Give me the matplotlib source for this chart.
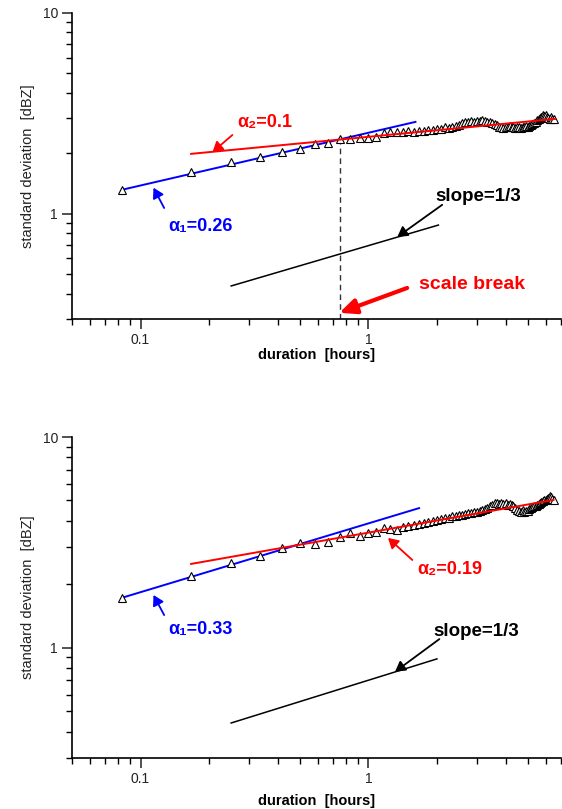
import numpy as np
import matplotlib
matplotlib.use('Agg')
from matplotlib import pyplot as plt
from matplotlib.ticker import FuncFormatter, NullFormatter, LogLocator

plt.rcParams['font.family'] = ['Liberation Sans', 'DejaVu Sans']

# durations: every 5 minutes, in hours
duration = np.arange(1, 79) / 12.0

# standard deviation [dBZ], upper panel
sd_top = [1.32, 1.62, 1.81, 1.92, 2.03, 2.11, 2.23, 2.25, 2.36, 2.36,
          2.38, 2.38, 2.40, 2.53, 2.55, 2.57, 2.56, 2.58, 2.57, 2.59,
          2.60, 2.62, 2.61, 2.64, 2.66, 2.70, 2.68, 2.72, 2.75, 2.78,
          2.82, 2.86, 2.88, 2.90, 2.88, 2.91, 2.89, 2.92, 2.90, 2.88,
          2.87, 2.85, 2.80, 2.76, 2.72, 2.70, 2.68, 2.72, 2.70, 2.74,
          2.71, 2.70, 2.68, 2.72, 2.70, 2.68, 2.72, 2.70, 2.74, 2.72,
          2.75, 2.78, 2.80, 2.84, 2.88, 2.92, 2.95, 3.00, 3.05, 3.10,
          3.08, 3.12, 3.05, 3.00, 2.96, 3.02, 2.98, 2.95]

# standard deviation [dBZ], lower panel
sd_bot = [1.73, 2.19, 2.53, 2.73, 2.98, 3.14, 3.11, 3.18, 3.36, 3.51,
          3.40, 3.51, 3.55, 3.70, 3.68, 3.62, 3.75, 3.78, 3.82, 3.85,
          3.90, 3.95, 4.00, 4.05, 4.08, 4.12, 4.15, 4.20, 4.22, 4.25,
          4.28, 4.30, 4.35, 4.38, 4.40, 4.42, 4.45, 4.50, 4.55, 4.62,
          4.70, 4.78, 4.85, 4.88, 4.82, 4.86, 4.80, 4.84, 4.78, 4.82,
          4.75, 4.70, 4.60, 4.50, 4.45, 4.42, 4.50, 4.40, 4.48, 4.45,
          4.55, 4.60, 4.65, 4.70, 4.72, 4.78, 4.80, 4.85, 4.90, 4.95,
          5.00, 5.05, 5.10, 5.15, 5.25, 5.20, 5.10, 5.05]

# power-law fit segments (end points)
top_fit1_x, top_fit1_y = [0.0833, 1.61], [1.32, 2.87]
top_fit2_x, top_fit2_y = [0.1667, 6.6], [1.99, 2.97]
top_ref_x, top_ref_y = [0.25, 2.03], [0.438, 0.88]
bot_fit1_x, bot_fit1_y = [0.0833, 1.67], [1.73, 4.6]
bot_fit2_x, bot_fit2_y = [0.1667, 6.5], [2.5, 5.03]
bot_ref_x, bot_ref_y = [0.25, 2.0], [0.44, 0.886]

break_x = 0.75
break_y = 2.36

fig = plt.figure(figsize=(5.62, 8.09), dpi=100)
ax1 = fig.add_axes([0.128, 0.6057, 0.87, 0.3783])
ax2 = fig.add_axes([0.128, 0.063, 0.87, 0.3968])


def style(ax, pad):
    ax.set_xscale('log')
    ax.set_yscale('log')
    ax.set_xlim(0.05, 7)
    ax.set_ylim(0.3, 10)
    for s in ['top', 'right']:
        ax.spines[s].set_visible(False)
    for s in ['left', 'bottom']:
        ax.spines[s].set_linewidth(1.2)
    fmt = FuncFormatter(lambda v, _: f'{v:g}')
    ax.xaxis.set_major_formatter(fmt)
    ax.yaxis.set_major_formatter(fmt)
    ax.xaxis.set_minor_formatter(NullFormatter())
    ax.yaxis.set_minor_formatter(NullFormatter())
    ax.xaxis.set_minor_locator(LogLocator(subs=np.arange(2, 10)))
    ax.yaxis.set_minor_locator(LogLocator(subs=np.arange(2, 10)))
    ax.tick_params(which='major', length=7, width=1.1, labelsize=10, colors='#222222', pad=3)
    ax.tick_params(which='minor', length=4.5, width=1.0)
    ax.set_xlabel('duration  [hours]', fontsize=10.5, fontweight='bold', labelpad=pad)
    ax.set_ylabel('standard deviation  [dBZ]', fontsize=10.5, color='#222222')
    ax.yaxis.set_label_coords(-0.075, 0.5)


def arrow(ax, head, tail, color, lw=1.3, hw=3.5, hl=6):
    ax.annotate('', xy=head, xytext=tail,
                arrowprops=dict(arrowstyle=f'-|>,head_width={hw/10},head_length={hl/10}',
                                color=color, lw=lw, shrinkA=0, shrinkB=0))


tri = dict(marker='^', linestyle='none', markersize=5.5, markerfacecolor='white',
           markeredgecolor='black', markeredgewidth=0.8, zorder=3)

# upper panel
style(ax1, 1)
ax1.plot(top_fit1_x, top_fit1_y, color='#0000ff', lw=1.4, zorder=2)
ax1.plot(top_fit2_x, top_fit2_y, color='#ff0000', lw=1.4, zorder=4)
ax1.plot(top_ref_x, top_ref_y, color='black', lw=1.1)
ax1.plot(duration, sd_top, **tri)
ax1.plot([break_x, break_x], [0.3, break_y], color='#333333', lw=1.0, ls=(0, (4, 3)))

ax1.text(0.266, 2.84, 'α₂=0.1', color='#ff0000', fontsize=13, fontweight='bold', va='center')
arrow(ax1, (0.207, 2.03), (0.253, 2.47), '#ff0000')
ax1.text(0.133, 0.862, 'α₁=0.26', color='#0000ff', fontsize=13, fontweight='bold', va='center')
arrow(ax1, (0.114, 1.35), (0.127, 1.07), '#0000ff')
ax1.text(1.97, 1.215, 'slope=1/3', color='black', fontsize=13.5, fontweight='bold', va='center')
arrow(ax1, (1.34, 0.768), (2.11, 1.11), 'black')
ax1.text(1.67, 0.443, 'scale break', color='#ff0000', fontsize=14, fontweight='bold', va='center')
arrow(ax1, (0.746, 0.322), (1.48, 0.428), '#ff0000', lw=3, hw=4.5, hl=10)

# lower panel
style(ax2, 6)
ax2.plot(bot_fit1_x, bot_fit1_y, color='#0000ff', lw=1.4, zorder=2)
ax2.plot(bot_fit2_x, bot_fit2_y, color='#ff0000', lw=1.4, zorder=4)
ax2.plot(bot_ref_x, bot_ref_y, color='black', lw=1.1)
ax2.plot(duration, sd_bot, **tri)

ax2.text(1.64, 2.34, 'α₂=0.19', color='#ff0000', fontsize=13, fontweight='bold', va='center')
arrow(ax2, (1.22, 3.32), (1.56, 2.61), '#ff0000')
ax2.text(0.133, 1.22, 'α₁=0.33', color='#0000ff', fontsize=13, fontweight='bold', va='center')
arrow(ax2, (0.114, 1.78), (0.127, 1.43), '#0000ff')
ax2.text(1.93, 1.20, 'slope=1/3', color='black', fontsize=13.5, fontweight='bold', va='center')
arrow(ax2, (1.31, 0.77), (2.05, 1.10), 'black')

fig.savefig('out.png', dpi=100)
